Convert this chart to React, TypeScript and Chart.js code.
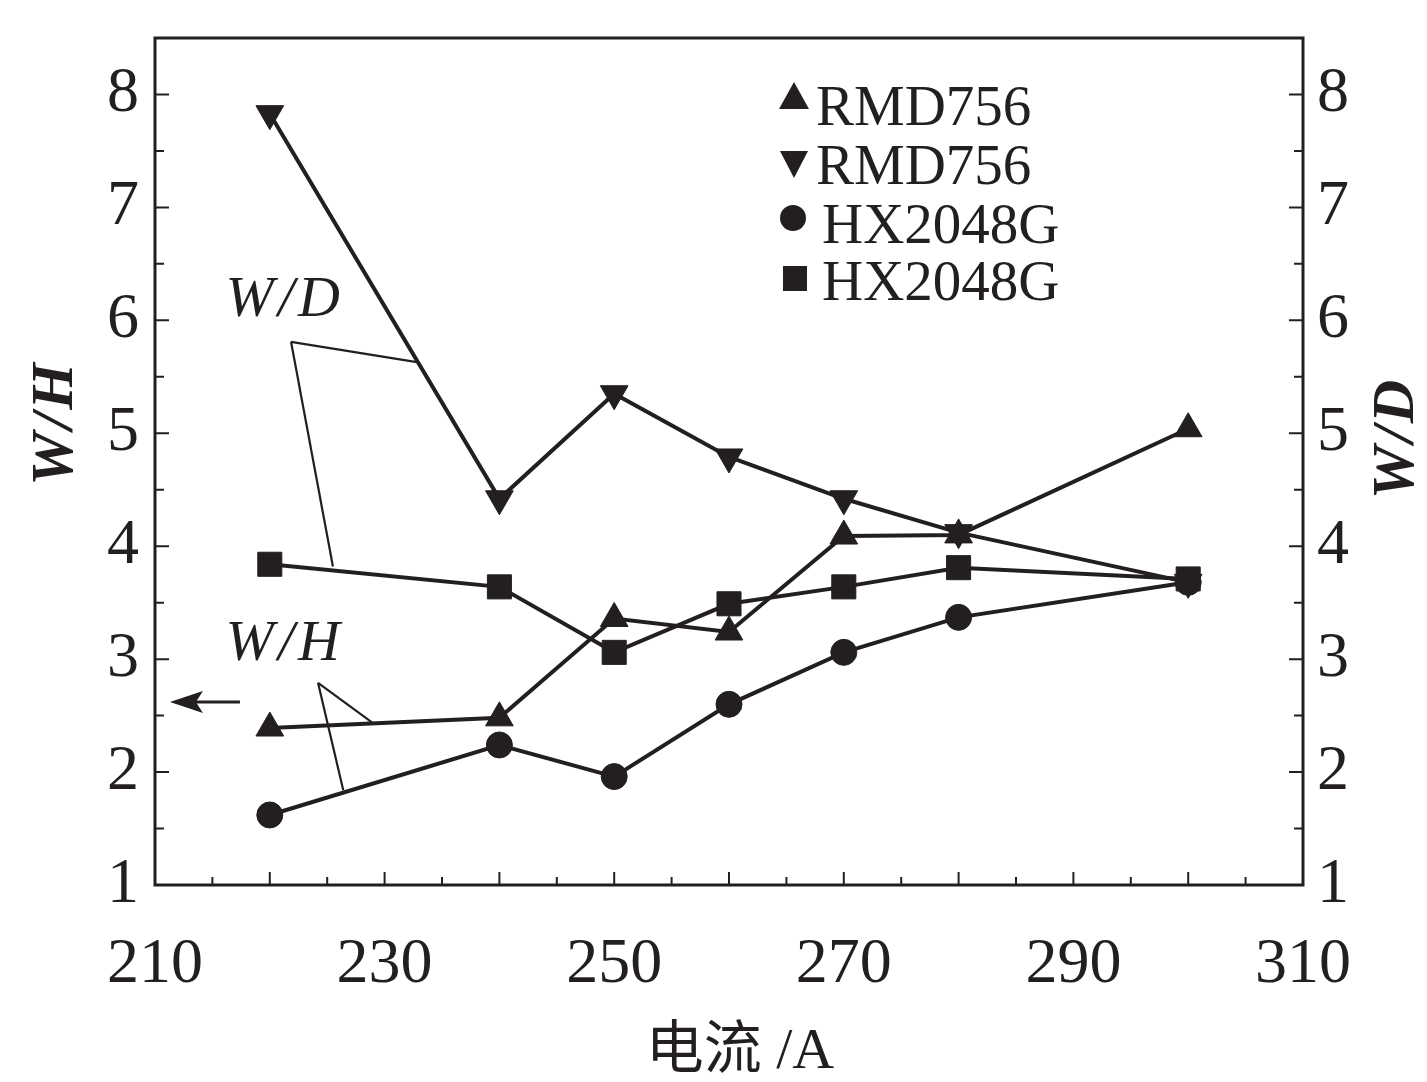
import React, { useEffect, useRef } from "react";
import { Chart, registerables } from "chart.js";

Chart.register(...registerables);

// ---- data ----
const currents = [220, 240, 250, 260, 270, 280, 300];
const rmdWH = [2.39, 2.48, 3.36, 3.24, 4.09, 4.1, 5.04];
const rmdWD = [7.83, 4.42, 5.35, 4.79, 4.42, 4.12, 3.68];
const hxWH = [1.62, 2.24, 1.96, 2.6, 3.06, 3.37, 3.68];
const hxWD = [3.84, 3.64, 3.06, 3.49, 3.64, 3.81, 3.71];
const seriesLabels = ["RMD756", "RMD756", "HX2048G", "HX2048G"];
const xTickValues = [210, 230, 250, 270, 290, 310];
const yTickValues = [1, 2, 3, 4, 5, 6, 7, 8];
const xTitle = "电流 /A";
const yTitle = "W/H";
const y2Title = "W/D";

// callout annotations in data units
const wdCallout = { text: "W/D", at: [221.3, 6.17], vertex: [221.85, 5.81], ends: [[232.8, 5.63], [225.5, 3.82]] };
const whCallout = { text: "W/H", at: [221.3, 3.13], vertex: [224.2, 2.79], ends: [[228.9, 2.44], [226.4, 1.84]] };
const arrow = { from: [217.4, 2.62], to: [211.3, 2.62] };

const INK = "#231f20";
const SERIF = "'Liberation Serif', 'DejaVu Serif', serif";

function toPts(ys: number[]) {
  return currents.map((x, i) => ({ x, y: ys[i] }));
}

const decorPlugin = {
  id: "decor",
  beforeDatasetsDraw(chart: any) {
    const { ctx, chartArea: a, scales } = chart;
    const xs = scales.x, ys = scales.y;
    ctx.save();
    ctx.strokeStyle = INK;
    ctx.lineWidth = 3;
    ctx.strokeRect(a.left, a.top, a.right - a.left, a.bottom - a.top);
    ctx.lineWidth = 2;
    // x ticks (inward)
    for (let v = 215; v < 310; v += 5) {
      const px = xs.getPixelForValue(v);
      const len = v % 10 === 0 ? 13 : 8;
      ctx.beginPath();
      ctx.moveTo(px, a.bottom);
      ctx.lineTo(px, a.bottom - len);
      ctx.stroke();
    }
    // y ticks (inward, both sides)
    for (let v = 1.5; v < 8.5; v += 0.5) {
      const py = ys.getPixelForValue(v);
      const len = Number.isInteger(v) ? 14 : 9;
      ctx.beginPath();
      ctx.moveTo(a.left, py);
      ctx.lineTo(a.left + len, py);
      ctx.moveTo(a.right, py);
      ctx.lineTo(a.right - len, py);
      ctx.stroke();
    }
    // callouts
    const P = (p: number[]) => [xs.getPixelForValue(p[0]), ys.getPixelForValue(p[1])];
    ctx.fillStyle = INK;
    ctx.textAlign = "center";
    ctx.textBaseline = "middle";
    ctx.font = `italic 58px ${SERIF}`;
    try { (ctx as any).letterSpacing = "4px"; } catch (e) {}
    for (const c of [wdCallout, whCallout]) {
      const [tx, ty] = P(c.at);
      ctx.fillText(c.text, tx, ty);
      const [vx, vy] = P(c.vertex);
      ctx.lineWidth = 2.2;
      for (const e of c.ends) {
        const [ex, ey] = P(e);
        ctx.beginPath();
        ctx.moveTo(vx, vy);
        ctx.lineTo(ex, ey);
        ctx.stroke();
      }
    }
    try { (ctx as any).letterSpacing = "0px"; } catch (e) {}
    // arrow pointing at left axis
    const [fx, fy] = P(arrow.from);
    const [tx2, ty2] = P(arrow.to);
    ctx.lineWidth = 3;
    ctx.beginPath();
    ctx.moveTo(fx, fy);
    ctx.lineTo(tx2 + 20, ty2);
    ctx.stroke();
    ctx.beginPath();
    ctx.moveTo(tx2, ty2);
    ctx.lineTo(tx2 + 33, ty2 - 11);
    ctx.lineTo(tx2 + 26, ty2);
    ctx.lineTo(tx2 + 33, ty2 + 11);
    ctx.closePath();
    ctx.fill();
    ctx.restore();
  },
  afterDraw(chart: any) {
    const { ctx, chartArea: a } = chart;
    ctx.save();
    ctx.fillStyle = INK;
    // axis titles
    ctx.textAlign = "center";
    ctx.textBaseline = "middle";
    ctx.font = `italic bold 60px ${SERIF}`;
    try { (ctx as any).letterSpacing = "3px"; } catch (e) {}
    ctx.save();
    ctx.translate(56, 423);
    ctx.rotate(-Math.PI / 2);
    ctx.fillText(yTitle, 0, 0);
    ctx.restore();
    ctx.save();
    ctx.translate(1397, 438);
    ctx.rotate(-Math.PI / 2);
    ctx.fillText(y2Title, 0, 0);
    ctx.restore();
    try { (ctx as any).letterSpacing = "0px"; } catch (e) {}
    ctx.font = `58px 'Liberation Serif', 'Noto Sans CJK SC', serif`;
    ctx.fillText(xTitle, 740, 1053);

    // legend
    const mx = a.left + 639;
    const rows = [a.top + 60, a.top + 125, a.top + 180, a.top + 240];
    const baselines = [a.top + 87, a.top + 146, a.top + 205, a.top + 262];
    // up triangle
    ctx.beginPath();
    ctx.moveTo(mx, rows[0] - 16);
    ctx.lineTo(mx + 15, rows[0] + 11);
    ctx.lineTo(mx - 15, rows[0] + 11);
    ctx.closePath();
    ctx.fill();
    // down triangle
    ctx.beginPath();
    ctx.moveTo(mx, rows[1] + 15);
    ctx.lineTo(mx + 14, rows[1] - 12);
    ctx.lineTo(mx - 14, rows[1] - 12);
    ctx.closePath();
    ctx.fill();
    // circle
    ctx.beginPath();
    ctx.arc(mx - 1, rows[2], 13, 0, Math.PI * 2);
    ctx.fill();
    // square
    ctx.fillRect(mx + 1 - 12, rows[3] - 12, 24, 25);

    ctx.textAlign = "left";
    ctx.textBaseline = "alphabetic";
    ctx.font = `57px ${SERIF}`;
    seriesLabels.forEach((lab, i) => {
      const off = lab.startsWith("HX") ? 28 : 22;
      ctx.fillText(lab, mx + off, baselines[i]);
    });
    ctx.restore();
  },
};

export default function App() {
  const ref = useRef<HTMLCanvasElement | null>(null);
  useEffect(() => {
    if (!ref.current) return;
    const common = {
      borderColor: INK,
      backgroundColor: INK,
      borderWidth: 4,
      pointBorderWidth: 1,
      pointBorderColor: INK,
      pointBackgroundColor: INK,
      tension: 0,
      fill: false,
    };
    const chart = new Chart(ref.current, {
      type: "line",
      data: {
        datasets: [
          { ...common, label: seriesLabels[0], data: toPts(rmdWH), yAxisID: "y", pointStyle: "triangle", pointRadius: 16 },
          { ...common, label: seriesLabels[1], data: toPts(rmdWD), yAxisID: "y2", pointStyle: "triangle", pointRotation: 180, pointRadius: 16 },
          { ...common, label: seriesLabels[2], data: toPts(hxWH), yAxisID: "y", pointStyle: "circle", pointRadius: 13 },
          { ...common, label: seriesLabels[3], data: toPts(hxWD), yAxisID: "y2", pointStyle: "rect", pointRadius: 17 },
        ],
      },
      options: {
        animation: false,
        responsive: true,
        maintainAspectRatio: false,
        layout: { padding: { top: 38, left: 0, right: 0, bottom: 0 } },
        plugins: { legend: { display: false }, tooltip: { enabled: false } },
        scales: {
          x: {
            type: "linear",
            min: 210,
            max: 310,
            grid: { display: false, drawTicks: false },
            border: { display: false },
            afterBuildTicks: (s: any) => {
              s.ticks = xTickValues.map((v) => ({ value: v }));
            },
            afterFit: (s: any) => {
              s.height = 197;
              s.paddingLeft = 0;
              s.paddingRight = 0;
              s.paddingTop = 0;
              s.paddingBottom = 0;
            },
            ticks: {
              autoSkip: false,
              maxRotation: 0,
              padding: 42,
              color: INK,
              font: { family: SERIF, size: 64 },
            },
          },
          y: {
            type: "linear",
            position: "left",
            min: 1,
            max: 8.5,
            grid: { display: false, drawTicks: false },
            border: { display: false },
            afterBuildTicks: (s: any) => {
              s.ticks = yTickValues.map((v) => ({ value: v }));
            },
            afterFit: (s: any) => {
              s.width = 155;
              s.paddingTop = 0;
              s.paddingBottom = 0;
              s.paddingLeft = 0;
              s.paddingRight = 0;
            },
            ticks: { autoSkip: false, padding: 16, color: INK, font: { family: SERIF, size: 64 } },
          },
          y2: {
            type: "linear",
            position: "right",
            min: 1,
            max: 8.5,
            grid: { display: false, drawTicks: false },
            border: { display: false },
            afterBuildTicks: (s: any) => {
              s.ticks = yTickValues.map((v) => ({ value: v }));
            },
            afterFit: (s: any) => {
              s.width = 124;
              s.paddingTop = 0;
              s.paddingBottom = 0;
              s.paddingLeft = 0;
              s.paddingRight = 0;
            },
            ticks: { autoSkip: false, padding: 14, color: INK, font: { family: SERIF, size: 64 } },
          },
        },
      },
      plugins: [decorPlugin],
    } as any);
    return () => chart.destroy();
  }, []);
  return (
    <div style={{ position: "fixed", left: 0, top: 0, width: 1427, height: 1082, background: "#fff" }}>
      <canvas ref={ref} />
    </div>
  );
}
